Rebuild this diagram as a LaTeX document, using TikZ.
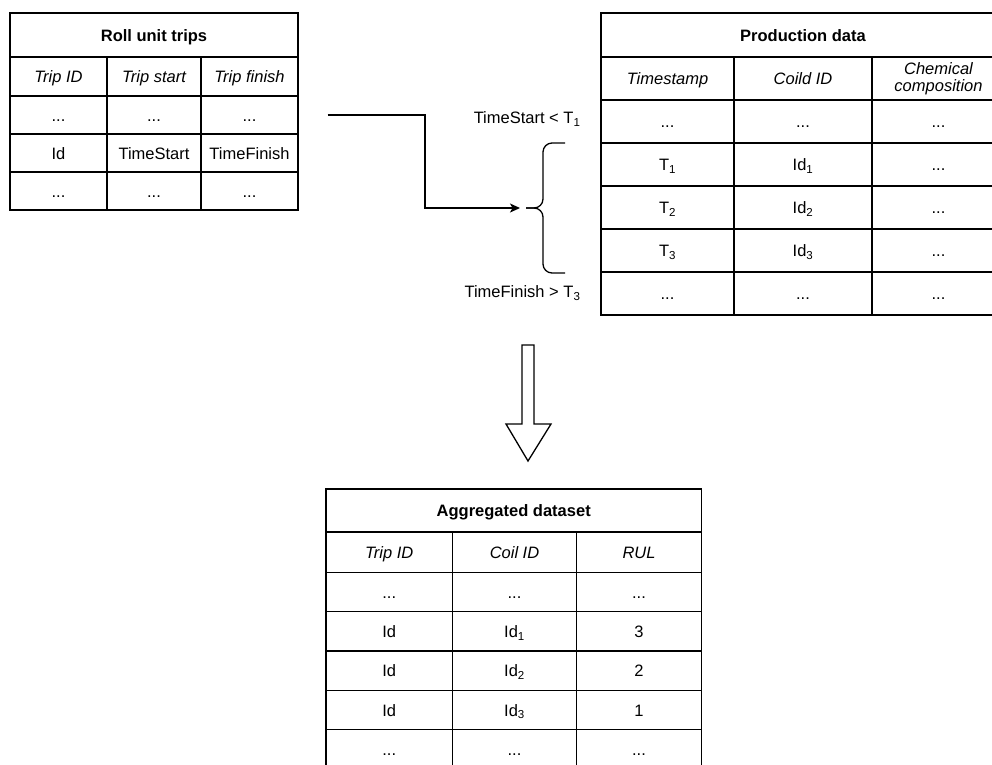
\documentclass[tikz,border=0pt]{standalone}
\usepackage{fontspec}
\setmainfont{Liberation Sans}
\usepackage{tikz}
\usetikzlibrary{arrows.meta,positioning,calc}
\newcommand{\rowdots}{...}

\begin{document}
\begin{tikzpicture}[
  x=1pt, y=-1pt,
  every node/.style={font=\fontsize{16.5}{19}\selectfont},
  cell/.style={draw, line width=1.3pt, inner sep=0pt, align=center, text height=13.5pt, text depth=1.5pt},
  titlecell/.style={cell, font=\fontsize{16.5}{19}\selectfont\bfseries},
  headcell/.style={cell, font=\fontsize{16.5}{19}\selectfont\itshape},
  arrow/.style={-{Stealth[length=10pt, width=9pt, inset=2.5pt]}, line width=1.3pt},
  brace/.style={line width=1.3pt, rounded corners=9pt},
  hollow/.style={line width=1.3pt, fill=white, line join=miter}
]
\useasboundingbox (0,0) rectangle (992,764);

% Table 1: Roll unit trips
\node[titlecell, minimum width=288pt, minimum height=44pt] (trips) at (154,35) {Roll unit trips};
\node[headcell, minimum width=97pt, minimum height=39pt] (trips-h-1) at (58.5,76.5) {Trip ID};
\node[headcell, minimum width=94pt, minimum height=39pt] (trips-h-2) at (154,76.5) {Trip start};
\node[headcell, minimum width=97pt, minimum height=39pt] (trips-h-3) at (249.5,76.5) {Trip finish};
\foreach \a/\b/\c [count=\i] in {\rowdots/\rowdots/\rowdots, Id/TimeStart/TimeFinish, \rowdots/\rowdots/\rowdots} {
  \node[cell, minimum width=97pt, minimum height=38pt] (trips-\i-1) at ({58.5},{77+38*\i}) {\a};
  \node[cell, minimum width=94pt, minimum height=38pt] (trips-\i-2) at ({154},{77+38*\i}) {\b};
  \node[cell, minimum width=97pt, minimum height=38pt] (trips-\i-3) at ({249.5},{77+38*\i}) {\c};
}

% Table 2: Production data
\node[titlecell, minimum width=404pt, minimum height=44pt] (prod) at (803,35) {Production data};
\node[headcell, minimum width=133pt, minimum height=43pt] (prod-h-1) at (667.5,78.5) {Timestamp};
\node[headcell, minimum width=138pt, minimum height=43pt] (prod-h-2) at (803,78.5) {Coild ID};
\node[headcell, minimum width=133pt, minimum height=43pt, text height={}, text depth={}, font=\fontsize{16.5}{17.5}\selectfont\itshape] (prod-h-3) at (938.5,78.5) {Chemical\\composition};
\foreach \a/\b [count=\i] in {\rowdots/\rowdots, T\textsubscript{1}/Id\textsubscript{1}, T\textsubscript{2}/Id\textsubscript{2}, T\textsubscript{3}/Id\textsubscript{3}, \rowdots/\rowdots} {
  \node[cell, minimum width=133pt, minimum height=43pt] (prod-\i-1) at ({667.5},{78.5+43*\i}) {\a};
  \node[cell, minimum width=138pt, minimum height=43pt] (prod-\i-2) at ({803},{78.5+43*\i}) {\b};
  \node[cell, minimum width=133pt, minimum height=43pt] (prod-\i-3) at ({938.5},{78.5+43*\i}) {\rowdots};
}

% Table 3: Aggregated dataset
\node[titlecell, minimum width=375.5pt, minimum height=43pt] (agg) at (513.75,510.5) {Aggregated dataset};
\node[headcell, minimum width=126.5pt, minimum height=40pt] (agg-h-1) at (389.25,552.5) {Trip ID};
\node[headcell, minimum width=124pt, minimum height=40pt] (agg-h-2) at (514.5,552.5) {Coil ID};
\node[headcell, minimum width=125pt, minimum height=40pt] (agg-h-3) at (639,552.5) {RUL};
\foreach \a/\b/\c [count=\i] in {\rowdots/\rowdots/\rowdots, Id/Id\textsubscript{1}/3, Id/Id\textsubscript{2}/2, Id/Id\textsubscript{3}/1, \rowdots/\rowdots/\rowdots} {
  \node[cell, minimum width=126.5pt, minimum height=39.3pt] (agg-\i-1) at ({389.25},{552.85+39.3*\i}) {\a};
  \node[cell, minimum width=124pt, minimum height=39.3pt] (agg-\i-2) at ({514.5},{552.85+39.3*\i}) {\b};
  \node[cell, minimum width=125pt, minimum height=39.3pt] (agg-\i-3) at ({639},{552.85+39.3*\i}) {\c};
}

% Time window brace
\coordinate (brtip) at (526,208);
\coordinate (brtop) at (565,143);
\coordinate (brbot) at (565,273);
\draw[brace] (brtop) -| ([xshift=17pt]brtip) -- (brtip);
\draw[brace] (brbot) -| ([xshift=17pt]brtip) -- (brtip);
\node[anchor=east] (tstart) at (584,119) {TimeStart < T\textsubscript{1}};
\node[anchor=east] (tfinish) at (584,293) {TimeFinish > T\textsubscript{3}};

% Connections
\coordinate (src) at ([xshift=29pt]trips-1-3.east);
\coordinate (bend) at (425,208);
\draw[arrow, shorten >=6pt] (src) -| (bend) -- (brtip);

\coordinate (dnarrow) at (528,345);
\draw[hollow] (dnarrow) ++(-6,0) -- ++(12,0) -- ++(0,79) -- ++(17,0) -- ++(-23,37) -- ++(-22,-37) -- ++(16,0) -- cycle;

\end{tikzpicture}
\end{document}
